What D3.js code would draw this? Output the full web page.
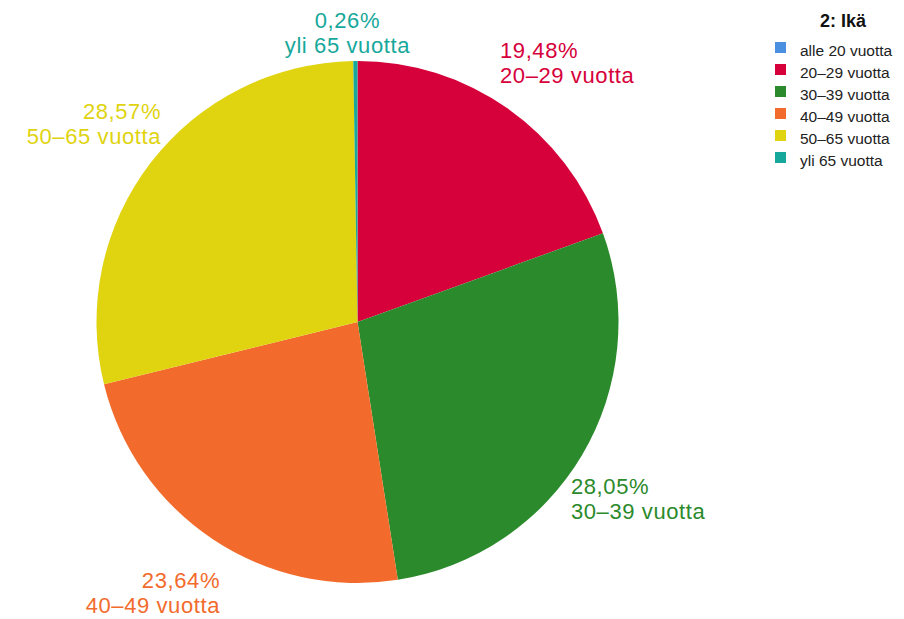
<!DOCTYPE html>
<html>
<head>
<meta charset="utf-8">
<script src="https://cdn.jsdelivr.net/npm/d3@7"></script>
<style>
  html, body { margin: 0; padding: 0; background: #fff; }
  svg { display: block; font-family: "Liberation Sans", Arial, sans-serif; }
</style>
</head>
<body>
<svg id="chart" width="904" height="619"></svg>
<script>
// Age groups and their share of respondents (%)
const categories = ["alle 20 vuotta", "20–29 vuotta", "30–39 vuotta", "40–49 vuotta", "50–65 vuotta", "yli 65 vuotta"];
const values = [0, 19.48, 28.05, 23.64, 28.57, 0.26];
const colors = ["#4b8fe0", "#d6003a", "#2b8a2b", "#f26b2c", "#e0d30f", "#17a89b"];
const legendTitle = "2: Ikä";

const svg = d3.select("#chart");
const cx = 357.5, cy = 322, r = 261;

const color = d3.scaleOrdinal().domain(categories).range(colors);
const fmt = v => v.toFixed(2).replace(".", ",") + "%";

const data = categories.map((c, i) => ({ cat: c, value: values[i] }));
const pie = d3.pie().sort(null).value(d => d.value);
const arcs = pie(data);
const arc = d3.arc().innerRadius(0).outerRadius(r);

const g = svg.append("g").attr("transform", `translate(${cx},${cy})`);
g.selectAll("path")
  .data(arcs.filter(a => a.data.value > 0))
  .join("path")
  .attr("d", arc)
  .attr("fill", d => color(d.data.cat));

// Outside labels: percentage over category name.
// Labels sit on an ellipse around the pie; the corner nearest the pie is anchored.
const labelRx = 248, labelRy = 292;
const fontSize = 22, lineGap = 25;

g.selectAll("text.lbl")
  .data(arcs.filter(a => a.data.value > 0))
  .join("text")
  .attr("class", "lbl")
  .attr("font-size", fontSize)
  .attr("letter-spacing", 0.6)
  .attr("fill", d => color(d.data.cat))
  .each(function(d) {
    const mid = (d.startAngle + d.endAngle) / 2;
    const s = Math.sin(mid), c = Math.cos(mid);
    let x, y1, anchor;
    if (Math.abs(s) < 0.2) {
      // near the top or bottom: centred block
      anchor = "middle";
      x = s * r - 8;
      y1 = c > 0 ? -(r + 8) - lineGap : r + 8 + 20;
    } else {
      anchor = s > 0 ? "start" : "end";
      x = s * labelRx;
      const py = -c * labelRy;
      y1 = c > 0 ? py - lineGap : py + 23;
    }
    const t = d3.select(this).attr("text-anchor", anchor);
    t.append("tspan").attr("x", x).attr("y", y1).text(fmt(d.data.value));
    t.append("tspan").attr("x", x).attr("y", y1 + lineGap).text(d.data.cat);
  });

// Legend
const lg = svg.append("g").attr("transform", "translate(775,0)");
lg.append("text")
  .attr("x", 68).attr("y", 27)
  .attr("text-anchor", "middle")
  .attr("font-size", 18).attr("font-weight", "bold")
  .attr("fill", "#111")
  .text(legendTitle);
const items = lg.selectAll("g.item")
  .data(categories)
  .join("g")
  .attr("class", "item")
  .attr("transform", (d, i) => `translate(0,${42 + i * 22})`);
items.append("rect").attr("width", 11).attr("height", 11).attr("fill", d => color(d));
items.append("text").attr("x", 25).attr("y", 14).attr("font-size", 15.5).attr("fill", "#222").text(d => d);
</script>
</body>
</html>
